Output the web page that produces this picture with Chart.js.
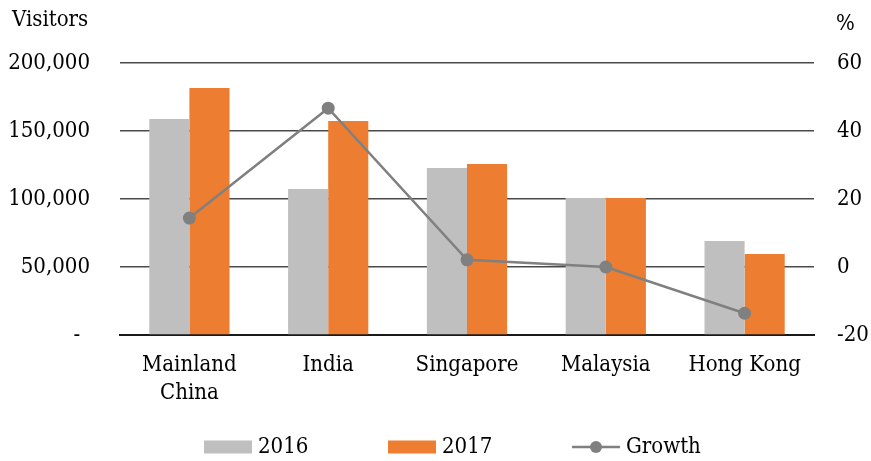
<!DOCTYPE html>
<html>
<head>
<meta charset="utf-8">
<script src="https://cdn.jsdelivr.net/npm/chart.js@4/dist/chart.umd.min.js"></script>
<style>
  html, body { margin: 0; padding: 0; background: #fff; }
  #wrap { width: 871px; height: 461px; position: relative; }
</style>
</head>
<body>
<div id="wrap"><canvas id="myChart"></canvas></div>
<script>
const categories = [['Mainland', 'China'], 'India', 'Singapore', 'Malaysia', 'Hong Kong'];
const visitors2016 = [158800, 107300, 122800, 100700, 69100];
const visitors2017 = [181600, 157300, 125700, 100700, 59600];
const growth = [14.4, 46.7, 2.1, 0.0, -13.6];
const seriesNames = ['2016', '2017', 'Growth'];

const FONT = "'DejaVu Serif Condensed', 'DejaVu Serif', serif";
const ctx = document.getElementById('myChart');

// axis titles + legend drawn on the canvas
const extras = {
  id: 'extras',
  afterDraw(chart) {
    const c = chart.ctx;
    c.save();
    c.font = '22px ' + FONT;
    c.fillStyle = '#000';
    c.textBaseline = 'middle';
    c.textAlign = 'left';
    c.fillText('Visitors', 12, 20);
    c.fillText('%', 836, 24);

    const y = 447;
    const items = [
      {x: 204, type: 'box', color: '#BFBFBF'},
      {x: 388, type: 'box', color: '#ED7D31'},
      {x: 572, type: 'line', color: '#808080'}
    ];
    items.forEach((it, i) => {
      if (it.type === 'box') {
        c.fillStyle = it.color;
        c.fillRect(it.x, y - 6.5, 48, 13);
      } else {
        c.strokeStyle = it.color;
        c.lineWidth = 2.5;
        c.beginPath();
        c.moveTo(it.x, y);
        c.lineTo(it.x + 48, y);
        c.stroke();
        c.fillStyle = it.color;
        c.beginPath();
        c.arc(it.x + 24, y, 6, 0, Math.PI * 2);
        c.fill();
      }
      c.fillStyle = '#000';
      c.fillText(seriesNames[i], it.x + 54, y);
    });
    c.restore();
  }
};

const data = {
  labels: categories,
  datasets: [
    {
      type: 'line',
      label: seriesNames[2],
      data: growth,
      yAxisID: 'y1',
      borderColor: '#808080',
      backgroundColor: '#808080',
      borderWidth: 2.5,
      pointRadius: 6.5,
      pointBackgroundColor: '#808080',
      pointBorderWidth: 0,
      tension: 0,
      order: 0
    },
    {
      type: 'bar',
      label: seriesNames[0],
      data: visitors2016,
      yAxisID: 'y',
      backgroundColor: '#BFBFBF',
      categoryPercentage: 0.578,
      barPercentage: 1.0,
      order: 1
    },
    {
      type: 'bar',
      label: seriesNames[1],
      data: visitors2017,
      yAxisID: 'y',
      backgroundColor: '#ED7D31',
      categoryPercentage: 0.578,
      barPercentage: 1.0,
      order: 1
    }
  ]
};

const config = {
  data: data,
  options: {
    responsive: true,
    maintainAspectRatio: false,
    animation: false,
    layout: { padding: { top: 63, left: 0, right: 0, bottom: 0 } },
    plugins: {
      legend: { display: false },
      tooltip: { enabled: false }
    },
    scales: {
      x: {
        grid: { display: false, drawTicks: false },
        border: { display: true, color: '#1a1a1a', width: 2 },
        ticks: {
          color: '#000',
          padding: 16,
          maxRotation: 0,
          font: { size: 22, family: FONT, lineHeight: 1.27 }
        },
        afterFit(scale) { scale.height = 126; }
      },
      y: {
        position: 'left',
        min: 0,
        max: 200000,
        grid: { color: '#4a4a4a', lineWidth: 1.5, drawTicks: false },
        border: { display: false },
        ticks: {
          stepSize: 50000,
          color: '#000',
          padding: 30,
          font: { size: 22, family: FONT },
          callback: (v) => v === 0 ? '-\u2002' : v.toLocaleString('en-US')
        },
        afterFit(scale) { scale.width = 120; }
      },
      y1: {
        position: 'right',
        min: -20,
        max: 60,
        grid: { display: false, drawTicks: false },
        border: { display: false },
        ticks: {
          stepSize: 20,
          color: '#000',
          padding: 23,
          font: { size: 22, family: FONT }
        },
        afterFit(scale) { scale.width = 57; }
      }
    }
  },
  plugins: [extras]
};

const myChart = new Chart(ctx, config);
</script>
</body>
</html>
